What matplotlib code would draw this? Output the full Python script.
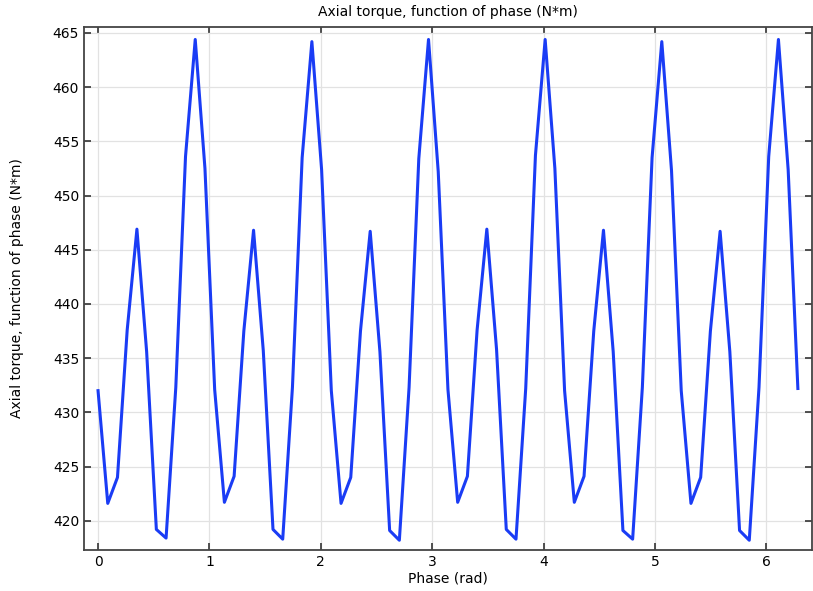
import numpy as np
import matplotlib.pyplot as plt

# phase samples: 0 .. 2*pi in steps of pi/36
phase = np.linspace(0, 2 * np.pi, 73)

torque = [
    432.0, 421.6, 424.0, 437.6, 446.9, 435.6, 419.2, 418.4, 432.3, 453.6, 464.4, 452.5,
    432.1, 421.7, 424.1, 437.5, 446.8, 435.7, 419.2, 418.3, 432.3, 453.5, 464.2, 452.4,
    432.0, 421.6, 424.0, 437.5, 446.7, 435.6, 419.1, 418.2, 432.3, 453.4, 464.4, 452.2,
    432.1, 421.7, 424.1, 437.6, 446.9, 435.8, 419.2, 418.3, 432.2, 453.7, 464.4, 452.5,
    432.0, 421.7, 424.1, 437.5, 446.8, 435.6, 419.1, 418.3, 432.3, 453.5, 464.2, 452.3,
    432.0, 421.6, 424.0, 437.5, 446.7, 435.6, 419.1, 418.2, 432.3, 453.6, 464.4, 452.4,
    432.2,
]

title = "Axial torque, function of phase (N*m)"

fig = plt.figure(figsize=(8.13, 5.91), dpi=100)
ax = fig.add_axes([84 / 813, 41 / 591, 728 / 813, 523 / 591])

ax.plot(phase, torque, color='#1a3cf5', linewidth=2.2)

ax.set_xlim(-0.126, 6.41)
ax.set_ylim(417.3, 465.55)
ax.set_xticks(range(0, 7))
ax.set_yticks(range(420, 466, 5))
ax.grid(True, color='#e2e2e2', linewidth=0.9)
ax.tick_params(direction='in', top=True, right=True, length=5, width=1.2,
               labelsize=10, colors='#333333', labelcolor='black')
for s in ax.spines.values():
    s.set_color('#444444')
    s.set_linewidth(1.3)

ax.set_xlabel("Phase (rad)", fontsize=10, labelpad=2)
ax.set_ylabel(title, fontsize=10, labelpad=21)
ax.set_title(title, fontsize=10, pad=8)

fig.savefig("out.png", dpi=100)
